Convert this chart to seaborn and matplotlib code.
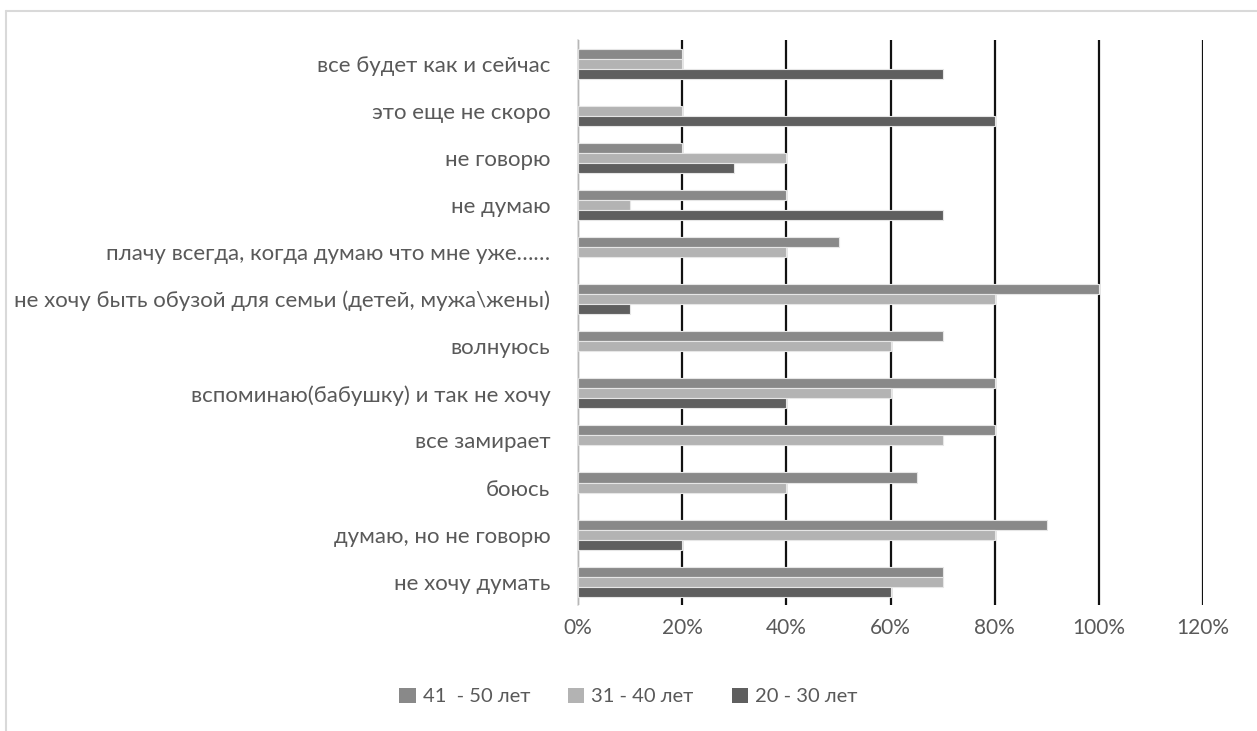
import numpy as np
import pandas as pd
import seaborn as sns
import matplotlib.pyplot as plt
from matplotlib.ticker import PercentFormatter, MultipleLocator
from matplotlib.lines import Line2D
from matplotlib.patches import Patch

categories = [
    "все будет как и сейчас",
    "это еще не скоро",
    "не говорю",
    "не думаю",
    "плачу всегда, когда думаю что мне уже……",
    "не хочу быть обузой для семьи (детей, мужа\\жены)",
    "волнуюсь",
    "вспоминаю(бабушку) и так не хочу",
    "все замирает",
    "боюсь",
    "думаю, но не говорю",
    "не хочу думать",
]
age_groups = ["41  - 50 лет", "31 - 40 лет", "20 - 30 лет"]
vals_41_50 = [0.20, 0.00, 0.20, 0.40, 0.50, 1.00, 0.70, 0.80, 0.80, 0.65, 0.90, 0.70]
vals_31_40 = [0.20, 0.20, 0.40, 0.10, 0.40, 0.80, 0.60, 0.60, 0.70, 0.40, 0.80, 0.70]
vals_20_30 = [0.70, 0.80, 0.30, 0.70, 0.00, 0.10, 0.00, 0.40, 0.00, 0.00, 0.20, 0.60]
colors = ["#898989", "#b3b3b3", "#5f5f5f"]

df = pd.DataFrame({
    "category": categories * 3,
    "group": np.repeat(age_groups, len(categories)),
    "value": vals_41_50 + vals_31_40 + vals_20_30,
})

sns.set_style("white")
plt.rcParams["font.family"] = ["Lato", "DejaVu Sans"]

fig = plt.figure(figsize=(12.57, 7.31), dpi=100)
ax = fig.add_axes([0.46, 0.172, 0.497, 0.773])

sns.barplot(
    data=df, y="category", x="value", hue="group",
    hue_order=age_groups, order=categories, palette=colors,
    orient="h", width=0.64, dodge=True, errorbar=None,
    edgecolor="#e6e6e6", linewidth=0.8, saturation=1, ax=ax, legend=False,
)
# hide empty (zero-length) bars so their outlines don't show at the axis
for bar in ax.patches:
    if abs(bar.get_width()) < 1e-9:
        bar.set_visible(False)

ax.set_xlim(0, 1.2)
ax.xaxis.set_major_locator(MultipleLocator(0.2))
ax.xaxis.set_major_formatter(PercentFormatter(1.0, decimals=0))
ax.set_axisbelow(True)
ax.grid(axis="x", color="#111111", linewidth=1.6)
ax.grid(axis="y", visible=False)
for side in ["top", "right", "bottom"]:
    ax.spines[side].set_visible(False)
ax.spines["left"].set_color("#d9d9d9")
ax.spines["left"].set_linewidth(1.2)
ax.set_xlabel("")
ax.set_ylabel("")
ax.tick_params(axis="both", length=0, labelcolor="#595959")
ax.tick_params(axis="x", pad=9, labelsize=15)
ax.tick_params(axis="y", pad=20, labelsize=16)

handles = [Patch(facecolor=c, edgecolor="none") for c in colors]
fig.legend(
    handles, age_groups, loc="center", bbox_to_anchor=(0.5, 0.047),
    ncol=3, frameon=False, fontsize=14.5, labelcolor="#595959",
    handlelength=0.8, handleheight=0.8, handletextpad=0.35, columnspacing=1.9,
)

# outer chart frame
fx, fy = 6 / 1257, 1 - 11 / 731
fig.add_artist(Line2D([fx, 1.0], [fy, fy], transform=fig.transFigure, color="#d9d9d9", lw=1.5))
fig.add_artist(Line2D([fx, fx], [fy, 0.0], transform=fig.transFigure, color="#d9d9d9", lw=1.5))

fig.savefig("out.png", dpi=100, facecolor="white")
